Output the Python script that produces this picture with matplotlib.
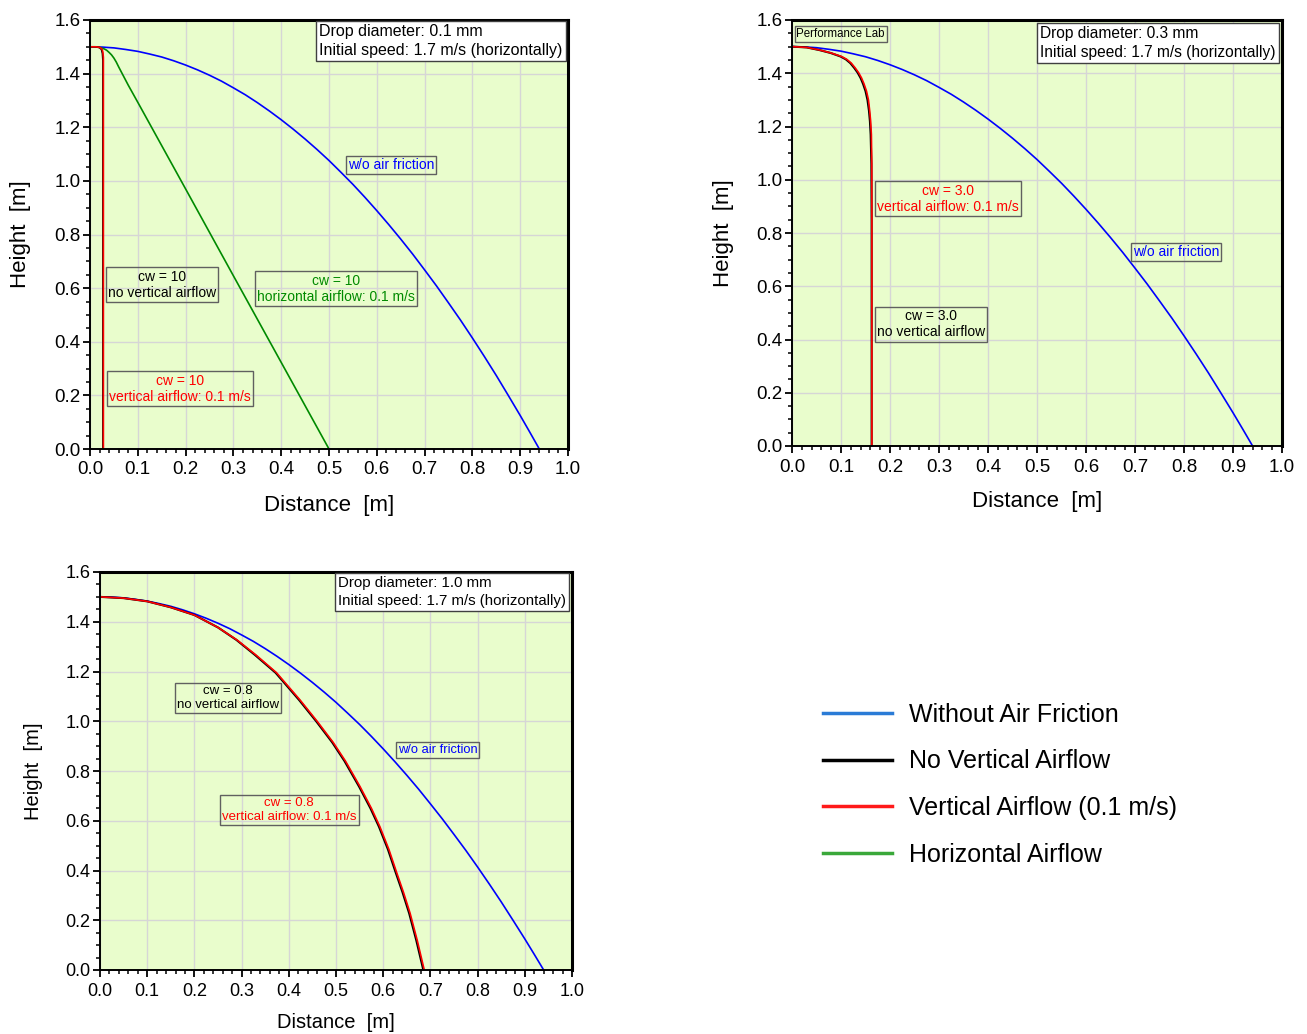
import matplotlib
matplotlib.use("Agg")
import matplotlib.pyplot as plt
from matplotlib.lines import Line2D
from matplotlib.ticker import MultipleLocator

plt.rcParams['font.family'] = ['Liberation Sans', 'DejaVu Sans']

# ---------------- data ----------------
# trajectory without air friction (same in all panels)
free_x = [0.0, 0.025, 0.05, 0.075, 0.1, 0.125, 0.15, 0.175, 0.2, 0.225, 0.25,
          0.275, 0.3, 0.325, 0.35, 0.375, 0.4, 0.425, 0.45, 0.475, 0.5, 0.525,
          0.55, 0.575, 0.6, 0.625, 0.65, 0.675, 0.7, 0.725, 0.75, 0.775, 0.8,
          0.825, 0.85, 0.875, 0.9, 0.92, 0.94]
free_y = [1.5, 1.499, 1.496, 1.490, 1.483, 1.473, 1.462, 1.448, 1.432, 1.414,
          1.394, 1.372, 1.347, 1.321, 1.292, 1.261, 1.228, 1.193, 1.156, 1.117,
          1.076, 1.032, 0.987, 0.939, 0.889, 0.837, 0.783, 0.727, 0.668, 0.608,
          0.545, 0.481, 0.414, 0.345, 0.274, 0.200, 0.125, 0.063, 0.0]

# panel 1 : drop 0.1 mm, cw = 10
p1_black_x = [0.0, 0.012, 0.02, 0.024, 0.026, 0.027, 0.027]
p1_black_y = [1.5, 1.5, 1.497, 1.49, 1.475, 1.45, 0.0]
p1_red_x = [0.0, 0.012, 0.02, 0.025, 0.027, 0.028, 0.028]
p1_red_y = [1.5, 1.5, 1.498, 1.492, 1.48, 1.46, 0.0]
p1_green_x = [0.0, 0.01, 0.02, 0.03, 0.035, 0.04, 0.045, 0.05, 0.055, 0.06,
              0.08, 0.1, 0.2, 0.3, 0.4, 0.5]
p1_green_y = [1.5, 1.5, 1.498, 1.492, 1.487, 1.479, 1.47, 1.458, 1.443, 1.425,
              1.357, 1.293, 0.97, 0.646, 0.323, 0.0]

# panel 2 : drop 0.3 mm, cw = 3.0
p2_black_x = [0.0, 0.03, 0.056, 0.079, 0.099, 0.11, 0.119, 0.127, 0.134, 0.14,
              0.145, 0.15, 0.154, 0.157, 0.159, 0.1605, 0.162, 0.1625, 0.1625]
p2_black_y = [1.5, 1.497, 1.487, 1.476, 1.463, 1.452, 1.438, 1.42, 1.402, 1.382,
              1.36, 1.333, 1.30, 1.26, 1.22, 1.17, 1.06, 0.85, 0.0]
p2_red_x = [0.0, 0.03, 0.057, 0.08, 0.101, 0.112, 0.121, 0.129, 0.136, 0.142,
            0.147, 0.152, 0.156, 0.1585, 0.1605, 0.162, 0.1628, 0.163, 0.163]
p2_red_y = [1.5, 1.497, 1.487, 1.476, 1.463, 1.452, 1.438, 1.42, 1.402, 1.382,
            1.36, 1.333, 1.30, 1.26, 1.22, 1.17, 1.06, 0.85, 0.0]

# panel 3 : drop 1.0 mm, cw = 0.8
p3_red_x = [0.0, 0.05, 0.1, 0.15, 0.2, 0.25, 0.29, 0.33, 0.374, 0.424, 0.46,
            0.494, 0.52, 0.551, 0.575, 0.593, 0.612, 0.629, 0.643, 0.657, 0.672, 0.687]
p3_red_y = [1.5, 1.495, 1.482, 1.458, 1.427, 1.377, 1.327, 1.267, 1.195, 1.085, 1.0,
            0.915, 0.84, 0.737, 0.65, 0.576, 0.485, 0.389, 0.312, 0.228, 0.12, 0.0]
p3_black_x = [0.0, 0.05, 0.1, 0.15, 0.2, 0.25, 0.289, 0.328, 0.372, 0.422, 0.458,
              0.492, 0.518, 0.549, 0.573, 0.591, 0.61, 0.627, 0.641, 0.655, 0.67, 0.685]
p3_black_y = p3_red_y

x_ticks = [0.0, 0.1, 0.2, 0.3, 0.4, 0.5, 0.6, 0.7, 0.8, 0.9, 1.0]
y_ticks = [0.0, 0.2, 0.4, 0.6, 0.8, 1.0, 1.2, 1.4, 1.6]

legend_labels = ["Without Air Friction", "No Vertical Airflow",
                 "Vertical Airflow (0.1 m/s)", "Horizontal Airflow"]
legend_colors = ["#2a7bd6", "#000000", "#ff1a1a", "#3aa83a"]

info_texts = ["Drop diameter: 0.1 mm\nInitial speed: 1.7 m/s (horizontally)",
              "Drop diameter: 0.3 mm\nInitial speed: 1.7 m/s (horizontally)",
              "Drop diameter: 1.0 mm\nInitial speed: 1.7 m/s (horizontally)"]

# ---------------- styling ----------------
BG = "#e9fdcc"
BLUE = "#0000ff"
RED = "#ff0000"
GREEN = "#008a00"
LW = 1.2

fig = plt.figure(figsize=(13.07, 10.34), dpi=100)

ax1 = fig.add_axes([90/1307, (1034-449)/1034, 478/1307, 429/1034])
ax2 = fig.add_axes([792/1307, (1034-446)/1034, 490/1307, 426/1034])
ax3 = fig.add_axes([100/1307, (1034-970)/1034, 472/1307, 398/1034])


def style(ax, tick_fs, label_fs, ylab_x, xlab_y):
    ax.set_facecolor(BG)
    ax.set_xlim(0, 1.0)
    ax.set_ylim(0, 1.6)
    ax.set_xticks(x_ticks)
    ax.set_yticks(y_ticks)
    ax.set_xticklabels([f"{v:.1f}" for v in x_ticks])
    ax.set_yticklabels([f"{v:.1f}" for v in y_ticks])
    ax.xaxis.set_minor_locator(MultipleLocator(0.02))
    ax.yaxis.set_minor_locator(MultipleLocator(0.05))
    ax.tick_params(which='major', direction='out', length=5, width=1.3,
                   labelsize=tick_fs, pad=2)
    ax.tick_params(which='minor', direction='out', length=3, width=1.1)
    ax.tick_params(axis='x', which='major', pad=4)
    ax.grid(True, which='major', color='#d6d6d6', lw=1.0)
    ax.set_axisbelow(True)
    for s in ['left', 'bottom']:
        ax.spines[s].set_linewidth(1.4)
    for s in ['top', 'right']:
        ax.spines[s].set_linewidth(2.2)
    ax.set_xlabel("Distance  [m]", fontsize=label_fs)
    ax.set_ylabel("Height  [m]", fontsize=label_fs)
    ax.yaxis.set_label_coords(ylab_x, 0.5)
    ax.xaxis.set_label_coords(0.5, xlab_y)


style(ax1, 13.5, 16, -0.124, -0.107)
style(ax2, 13.5, 16, -0.118, -0.106)
style(ax3, 13, 14.5, -0.12, -0.107)

ann_box = dict(boxstyle='square,pad=0.15', facecolor='none', edgecolor='#606060', lw=1.0)
info_box = dict(boxstyle='square,pad=0.2', facecolor='white', edgecolor='#404040', lw=1.0)

# ---- panel 1
ax1.plot(free_x, free_y, color=BLUE, lw=LW)
ax1.plot(p1_green_x, p1_green_y, color=GREEN, lw=LW)
ax1.plot(p1_black_x, p1_black_y, color='black', lw=LW)
ax1.plot(p1_red_x, p1_red_y, color=RED, lw=LW)
ax1.text(0.479, 1.585, info_texts[0], fontsize=11.5, ha='left', va='top',
         linespacing=1.35, bbox=info_box)
ax1.text(0.63, 1.06, "w/o air friction", fontsize=10, color=BLUE,
         ha='center', va='center', bbox=ann_box)
ax1.text(0.151, 0.612, "cw = 10\nno vertical airflow", fontsize=10, color='black',
         ha='center', va='center', multialignment='center', linespacing=1.25, bbox=ann_box)
ax1.text(0.515, 0.597, "cw = 10\nhorizontal airflow: 0.1 m/s", fontsize=10, color=GREEN,
         ha='center', va='center', multialignment='center', linespacing=1.25, bbox=ann_box)
ax1.text(0.188, 0.224, "cw = 10\nvertical airflow: 0.1 m/s", fontsize=10, color=RED,
         ha='center', va='center', multialignment='center', linespacing=1.25, bbox=ann_box)

# ---- panel 2
ax2.plot(free_x, free_y, color=BLUE, lw=LW)
ax2.plot(p2_black_x, p2_black_y, color='black', lw=LW + 0.3)
ax2.plot(p2_red_x, p2_red_y, color=RED, lw=LW)
ax2.text(0.506, 1.577, info_texts[1], fontsize=11.2, ha='left', va='top',
         linespacing=1.35, bbox=info_box)
ax2.text(0.009, 1.547, "Performance Lab", fontsize=8.3, ha='left', va='center',
         bbox=dict(boxstyle='square,pad=0.15', facecolor='none', edgecolor='#606060', lw=1.0))
ax2.text(0.318, 0.928, "cw = 3.0\nvertical airflow: 0.1 m/s", fontsize=10, color=RED,
         ha='center', va='center', multialignment='center', linespacing=1.25, bbox=ann_box)
ax2.text(0.284, 0.458, "cw = 3.0\nno vertical airflow", fontsize=10, color='black',
         ha='center', va='center', multialignment='center', linespacing=1.25, bbox=ann_box)
ax2.text(0.784, 0.729, "w/o air friction", fontsize=10, color=BLUE,
         ha='center', va='center', bbox=ann_box)

# ---- panel 3
ax3.plot(free_x, free_y, color=BLUE, lw=LW)
ax3.plot(p3_black_x, p3_black_y, color='black', lw=LW + 0.3)
ax3.plot(p3_red_x, p3_red_y, color=RED, lw=LW)
ax3.text(0.504, 1.583, info_texts[2], fontsize=10.8, ha='left', va='top',
         linespacing=1.3, bbox=info_box)
ax3.text(0.271, 1.093, "cw = 0.8\nno vertical airflow", fontsize=9.5, color='black',
         ha='center', va='center', multialignment='center', linespacing=1.2, bbox=ann_box)
ax3.text(0.401, 0.643, "cw = 0.8\nvertical airflow: 0.1 m/s", fontsize=9.5, color=RED,
         ha='center', va='center', multialignment='center', linespacing=1.2, bbox=ann_box)
ax3.text(0.715, 0.884, "w/o air friction", fontsize=9.3, color=BLUE,
         ha='center', va='center', bbox=ann_box)

# ---- legend
handles = [Line2D([0], [0], color=c, lw=2.5) for c in legend_colors]
fig.legend(handles, legend_labels, loc='upper left',
           bbox_to_anchor=(823/1307, (1034-703)/1034), frameon=False,
           fontsize=18, handlelength=2.75, handletextpad=0.7,
           labelspacing=0.9, borderpad=0, borderaxespad=0)

fig.savefig("out.png", dpi=100)
